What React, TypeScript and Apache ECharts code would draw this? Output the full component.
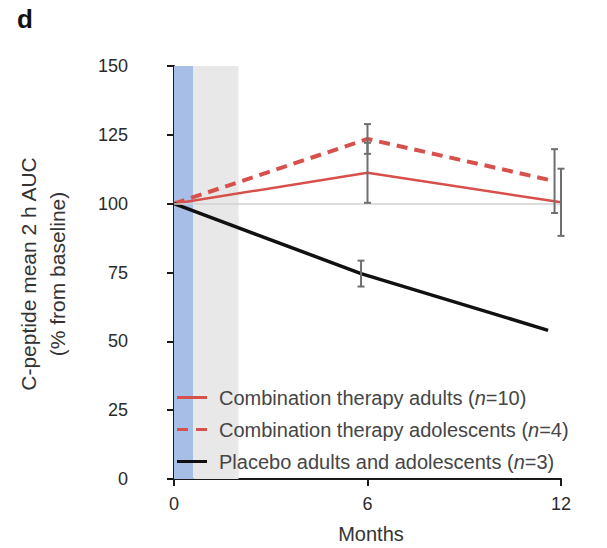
import React, { useEffect, useRef } from "react";
import * as echarts from "echarts";

// Time points (months) and mean % of baseline for each group
const adultMonths = [0, 6, 12];
const adultValues = [100, 111.2, 100.5];
const adultErr = [0, 10.9, 12.2];

const adolMonths = [0, 6, 11.8];
const adolValues = [100, 123.5, 108.2];
const adolErr = [0, 5.4, 11.6];

const placeboMonths = [0, 5.8, 11.6];
const placeboValues = [100, 74.6, 54];
const placeboErr = [0, 4.7, 0];

// Treatment windows shaded behind the curves (months)
const infusionBand = [0, 0.6];
const followBand = [0.6, 2.0];

const yTicks = [0, 25, 50, 75, 100, 125, 150];
const xTicks = [0, 6, 12];
const baseline = 100;

const seriesNames = [
  "Combination therapy adults (n=10)",
  "Combination therapy adolescents (n=4)",
  "Placebo adults and adolescents (n=3)",
];
const legendLabels: Record<string, string> = {
  [seriesNames[0]]: "{s|}Combination therapy adults ({i|n}=10)",
  [seriesNames[1]]: "{s|}Combination therapy adolescents ({i|n}=4)",
  [seriesNames[2]]: "{s|}Placebo adults and adolescents ({i|n}=3)",
};

// Legend glyphs: a solid stroke, and two dashes for the dashed series
const SOLID_ICON = "path://M0,0H30V3H0Z";
const DASH_ICON = "path://M0,0H11V3H0Z M19,0H30V3H19Z";

const RED = "#d8504b";
const FONT = "'Liberation Sans', Arial, Helvetica, sans-serif";

const zip = (xs: number[], ys: number[]) => xs.map((x, i) => [x, ys[i]]);
const errRows = (xs: number[], ys: number[], es: number[]) =>
  xs
    .map((x, i) => [x, ys[i] - es[i], ys[i] + es[i]])
    .filter((r, i) => es[i] > 0);

function errorBarItem(params: any, api: any) {
  const x = api.value(0);
  const lo = api.coord([x, api.value(1)]);
  const hi = api.coord([x, api.value(2)]);
  const cap = 3.5;
  const style = { stroke: "#6f6f6f", lineWidth: 2 };
  return {
    type: "group",
    children: [
      { type: "line", shape: { x1: lo[0], y1: lo[1], x2: hi[0], y2: hi[1] }, style },
      { type: "line", shape: { x1: lo[0] - cap, y1: lo[1], x2: lo[0] + cap, y2: lo[1] }, style },
      { type: "line", shape: { x1: hi[0] - cap, y1: hi[1], x2: hi[0] + cap, y2: hi[1] }, style },
    ],
  };
}

export default function App() {
  const ref = useRef<HTMLDivElement>(null);

  useEffect(() => {
    document.body.style.margin = "0";
    if (!ref.current) return;
    const chart = echarts.init(ref.current, undefined, { renderer: "svg" });

    const errSeries = (rows: number[][], z: number) => ({
      type: "custom",
      renderItem: errorBarItem,
      data: rows,
      z,
      silent: true,
      encode: { x: 0, y: [1, 2] },
    });

    chart.setOption({
      animation: false,
      backgroundColor: "#ffffff",
      textStyle: { fontFamily: FONT },
      grid: { left: 174, right: 46, top: 66, bottom: 69, containLabel: false },
      xAxis: {
        type: "value",
        min: xTicks[0],
        max: xTicks[xTicks.length - 1],
        interval: 6,
        offset: 3,
        splitLine: { show: false },
        axisLine: { show: true, lineStyle: { color: "#1a1a1a", width: 2 } },
        axisTick: { show: true, inside: false, length: 7, lineStyle: { color: "#1a1a1a", width: 2 } },
        axisLabel: { color: "#2a2a2a", fontSize: 18, margin: 13, fontFamily: FONT },
      },
      yAxis: {
        type: "value",
        min: yTicks[0],
        max: yTicks[yTicks.length - 1],
        interval: 25,
        offset: 29,
        splitLine: { show: false },
        axisLine: { show: true, lineStyle: { color: "#1a1a1a", width: 2 } },
        axisTick: { show: true, inside: false, length: 7, lineStyle: { color: "#1a1a1a", width: 2 } },
        axisLabel: { color: "#2a2a2a", fontSize: 18, margin: 17, fontFamily: FONT },
      },
      legend: {
        orient: "vertical",
        left: 172,
        top: 381,
        itemWidth: 30,
        itemHeight: 3,
        itemGap: 9,
        data: [
          { name: seriesNames[0], icon: SOLID_ICON },
          { name: seriesNames[1], icon: DASH_ICON },
          { name: seriesNames[2], icon: SOLID_ICON },
        ],
        formatter: (name: string) => legendLabels[name],
        textStyle: {
          fontSize: 20,
          color: "#454545",
          fontFamily: FONT,
          lineHeight: 23,
          rich: {
            s: { width: 7, fontSize: 20 },
            i: { fontStyle: "italic", fontSize: 20, color: "#454545", fontFamily: FONT },
          },
        },
      },
      series: [
        {
          name: "bands",
          type: "line",
          data: [],
          silent: true,
          markArea: {
            silent: true,
            data: [
              [{ xAxis: infusionBand[0], yAxis: yTicks[0], itemStyle: { color: "#a7bfe7" } }, { xAxis: infusionBand[1], yAxis: yTicks[yTicks.length - 1] }],
              [{ xAxis: followBand[0], yAxis: yTicks[0], itemStyle: { color: "#e8e8e8" } }, { xAxis: followBand[1], yAxis: yTicks[yTicks.length - 1] }],
            ],
          },
          markLine: {
            silent: true,
            symbol: "none",
            label: { show: false },
            lineStyle: { color: "#d2d2d2", width: 1.5, type: "solid" },
            data: [{ yAxis: baseline }],
          },
        },
        errSeries(errRows(adultMonths, adultValues, adultErr), 5),
        errSeries(errRows(adolMonths, adolValues, adolErr), 5),
        errSeries(errRows(placeboMonths, placeboValues, placeboErr), 5),
        {
          name: seriesNames[0],
          type: "line",
          data: zip(adultMonths, adultValues),
          symbol: "none",
          z: 4,
          itemStyle: { color: RED },
          lineStyle: { color: RED, width: 2.5 },
        },
        {
          name: seriesNames[1],
          type: "line",
          data: zip(adolMonths, adolValues),
          symbol: "none",
          z: 4,
          itemStyle: { color: RED },
          lineStyle: { color: RED, width: 4, type: [11, 7] },
        },
        {
          name: seriesNames[2],
          type: "line",
          data: zip(placeboMonths, placeboValues),
          symbol: "none",
          z: 4,
          itemStyle: { color: "#111" },
          lineStyle: { color: "#111", width: 3.5 },
        },
      ],
      graphic: [
        {
          type: "text",
          left: 17,
          top: 6,
          style: { text: "d", font: `bold 26px ${FONT}`, fill: "#111" },
        },
        {
          type: "text",
          x: 43,
          y: 274,
          rotation: Math.PI / 2,
          style: {
            text: "C-peptide mean 2 h AUC\n(% from baseline)",
            font: `21px ${FONT}`,
            fill: "#333",
            align: "center",
            verticalAlign: "middle",
            lineHeight: 29,
          },
        },
        {
          type: "text",
          x: 371,
          y: 534,
          style: {
            text: "Months",
            font: `20px ${FONT}`,
            fill: "#333",
            align: "center",
            verticalAlign: "middle",
          },
        },
      ],
    });

    return () => chart.dispose();
  }, []);

  return <div ref={ref} style={{ width: 607, height: 548 }} />;
}
